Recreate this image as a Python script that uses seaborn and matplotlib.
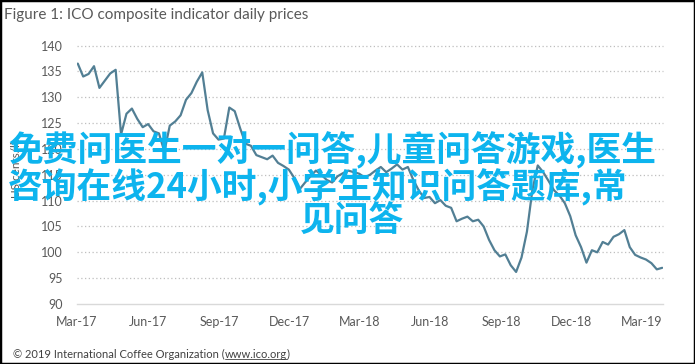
import pandas as pd
import matplotlib
matplotlib.use("Agg")
import matplotlib.pyplot as plt
from matplotlib.patches import Rectangle
from matplotlib.lines import Line2D
import seaborn as sns

# --- DATA (roughly one value per week) ---
TITLE = "Figure 1: ICO composite indicator daily prices"
Y_LABEL = "US cents/lb"
SOURCE_PREFIX = "© 2019 International Coffee Organization ("
SOURCE_LINK = "www.ico.org"
SOURCE_SUFFIX = ")"

prices = [
    136.5, 134.0, 134.5, 136.0, 131.8, 133.2, 134.6, 135.3, 122.8, 126.8,
    127.8, 125.8, 124.2, 124.8, 123.4, 123.0, 119.5, 124.5, 125.3, 126.5,
    129.5, 130.8, 133.0, 134.8, 127.5, 123.0, 121.8, 122.0, 128.0, 127.3,
    124.0, 121.0, 120.6, 118.8, 118.4, 118.0, 118.7, 117.3, 116.7, 116.0,
    114.4, 112.2, 113.5, 114.7, 115.8, 115.0, 114.0, 113.5, 114.7, 115.3,
    115.8, 115.5, 115.2, 114.5, 115.0, 115.8, 116.5, 115.5, 116.2, 117.0,
    116.0, 116.5, 114.0, 112.0, 110.5, 110.7, 109.5, 110.1, 109.0, 108.6,
    106.0, 106.5, 106.9, 106.0, 106.3, 105.0, 102.4, 100.4, 99.2, 99.6,
    97.5, 96.2, 99.0, 104.0, 112.0, 116.8, 115.5, 113.8, 112.0, 111.0,
    109.5, 107.0, 103.3, 101.0, 98.0, 100.4, 100.0, 102.0, 101.5, 103.0,
    103.5, 104.3, 101.0, 99.5, 99.0, 98.6, 97.9, 96.7, 97.0,
]
dates = pd.date_range("2017-03-02", periods=len(prices), freq="7D")

tick_dates = pd.to_datetime([
    "2017-03-01", "2017-06-01", "2017-09-01", "2017-12-01", "2018-03-01",
    "2018-06-01", "2018-09-01", "2018-12-01", "2019-03-01",
])
tick_labels = ["Mar-17", "Jun-17", "Sep-17", "Dec-17", "Mar-18",
               "Jun-18", "Sep-18", "Dec-18", "Mar-19"]
y_ticks = [90, 95, 100, 105, 110, 115, 120, 125, 130, 135, 140]

overlay_lines = [
    "免费问医生一对一问答,儿童问答游戏,医生",
    "咨询在线24小时,小学生知识问答题库,常",
    "见问答",
]

df = pd.DataFrame({"date": dates, "price": prices})

# --- STYLE ---
sns.set_style("white")
plt.rcParams["font.family"] = ["Lato", "DejaVu Sans"]
TEXT_GREY = "#595959"
LINE_COLOR = "#527f94"

W, H = 695, 364
fig = plt.figure(figsize=(W / 100, H / 100), dpi=100)
ax = fig.add_axes([77 / W, 1 - 304 / H, 586 / W, 258.5 / H])

sns.lineplot(data=df, x="date", y="price", ax=ax, color=LINE_COLOR, linewidth=1.6)

ax.set_xlim(pd.Timestamp("2017-03-01"), pd.Timestamp("2019-03-29"))
ax.set_ylim(90, 140)
ax.set_yticks(y_ticks)
ax.set_xticks(tick_dates)
ax.set_xticklabels(tick_labels)
ax.set_xlabel("")
ax.set_ylabel("")
ax.tick_params(axis="both", length=0, labelsize=9, labelcolor=TEXT_GREY)
ax.tick_params(axis="y", pad=10)
ax.tick_params(axis="x", pad=9)

for yv in y_ticks[1:]:
    ax.axhline(yv, color="#bfbfbf", linestyle=(0, (1, 2)), linewidth=0.9,
               zorder=0, clip_on=False)

for side in ["top", "right", "left"]:
    ax.spines[side].set_visible(False)
ax.spines["bottom"].set_color("#d9d9d9")
ax.spines["bottom"].set_linewidth(1)

# title, axis label
fig.text(4 / W, 1 - 15 / H, TITLE, fontsize=11, color=TEXT_GREY, va="center", ha="left")
fig.text(16 / W, 1 - 168 / H, Y_LABEL, fontsize=8.5, color=TEXT_GREY,
         rotation=90, va="center", ha="center")

# source line with underlined link
renderer = fig.canvas.get_renderer()
src_y = 1 - 354 / H
t1 = fig.text(13 / W, src_y, SOURCE_PREFIX, fontsize=8, color="#404040", va="center")
x1 = t1.get_window_extent(renderer).x1 / W
t2 = fig.text(x1, src_y, SOURCE_LINK, fontsize=8, color="#404040", va="center")
bb2 = t2.get_window_extent(renderer)
fig.add_artist(Line2D([bb2.x0 / W, bb2.x1 / W], [(bb2.y0 + 0.5) / H] * 2,
                      color="#404040", linewidth=0.6, transform=fig.transFigure))
fig.text(bb2.x1 / W, src_y, SOURCE_SUFFIX, fontsize=8, color="#404040", va="center")

# watermark overlay text
cjk = ["Noto Sans CJK SC", "DejaVu Sans"]
overlay_pos = [(8, 150), (8, 187), (300, 221)]
for txt, (px, py) in zip(overlay_lines, overlay_pos):
    fig.text(px / W, 1 - py / H, txt, family=cjk, fontsize=25, fontweight="bold",
             color="#0db4ee", va="center", ha="left")

# outer frame
fig.add_artist(Rectangle((0, 0), 1, 1, transform=fig.transFigure, fill=False,
                         edgecolor="black", linewidth=2.5))

fig.savefig("out.png", dpi=100)
